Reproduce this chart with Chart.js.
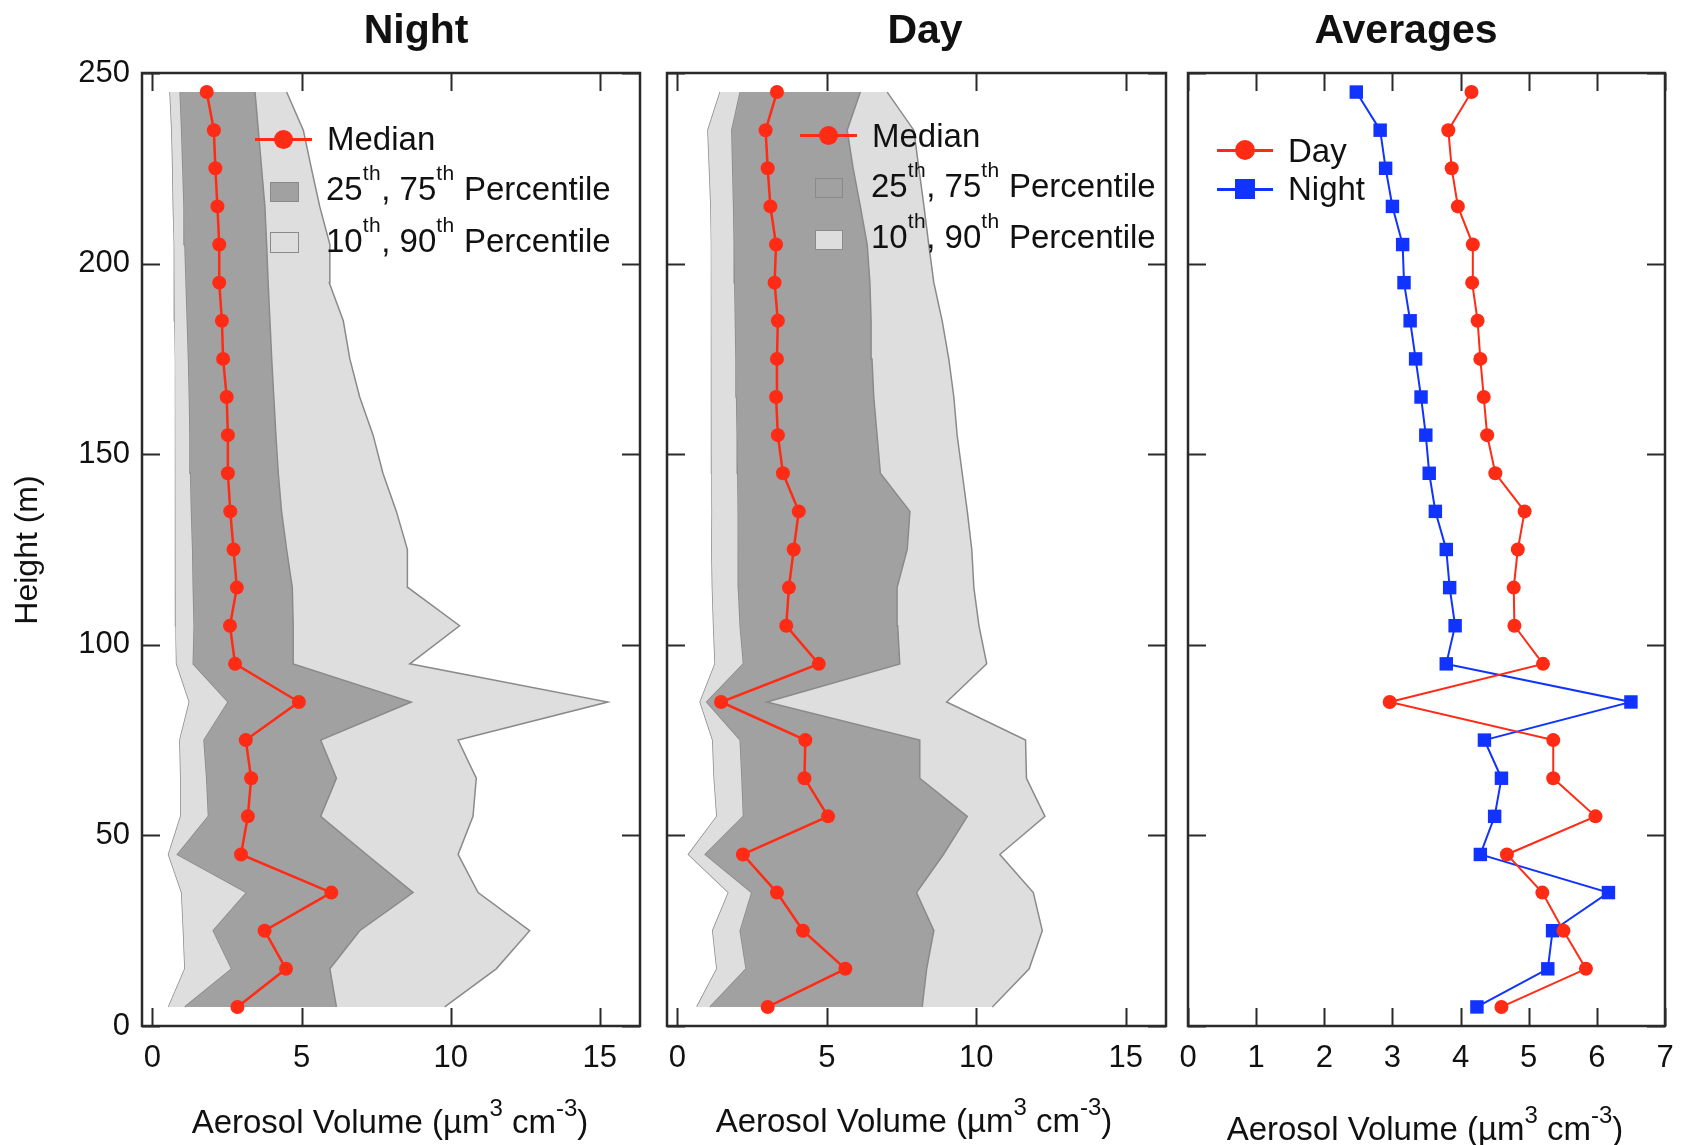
<!DOCTYPE html>
<html>
<head>
<meta charset="utf-8">
<title>Aerosol volume profiles</title>
<script src="https://cdn.jsdelivr.net/npm/chart.js@4.4.1/dist/chart.umd.min.js"></script>
<style>
  html, body { margin: 0; padding: 0; background: #fff; overflow: hidden; }
  body { width: 1682px; height: 1145px; position: relative;
         font-family: "Liberation Sans", Arial, Helvetica, sans-serif; color: #111; }
  canvas { position: absolute; top: 0; }
  .txt { position: absolute; white-space: nowrap; }
  .title { font-weight: bold; font-size: 41px; line-height: 41px; text-align: center; width: 400px; }
  .leg { font-size: 33px; line-height: 33px; }
  .leg .sup { font-size: 21px; position: relative; top: -20px; letter-spacing: 0.5px; }
  .axt { font-size: 33px; line-height: 33px; text-align: center; width: 600px; }
  .axt .sup { font-size: 24px; position: relative; top: -17px; }
  .ln { position: absolute; height: 2.5px; }
  .dot { position: absolute; border-radius: 50%; }
  .sq { position: absolute; }
  .sw { position: absolute; box-sizing: border-box; border: 1.5px solid #8a8a8a; }
  .ytitle { font-size: 32px; line-height: 32px; width: 300px; text-align: center;
            transform: rotate(-90deg); }
</style>
</head>
<body>
<canvas id="night" width="660" height="1145" style="left:0px"></canvas>
<canvas id="day" width="540" height="1145" style="left:645px"></canvas>
<canvas id="avg" width="516" height="1145" style="left:1166px"></canvas>

<!-- panel titles -->
<div class="txt title" style="left:216px; top:9px">Night</div>
<div class="txt title" style="left:725px; top:9px">Day</div>
<div class="txt title" style="left:1206px; top:9px">Averages</div>

<!-- axis titles -->
<div class="txt ytitle" style="left:-124px; top:534px">Height (m)</div>
<div class="txt axt" style="left:90px; top:1105px">Aerosol Volume (µm<span class="sup">3</span> cm<span class="sup">-3</span>)</div>
<div class="txt axt" style="left:614px; top:1104px">Aerosol Volume (µm<span class="sup">3</span> cm<span class="sup">-3</span>)</div>
<div class="txt axt" style="left:1125px; top:1112px">Aerosol Volume (µm<span class="sup">3</span> cm<span class="sup">-3</span>)</div>

<!-- Night legend -->
<div class="ln" style="left:255px; top:138px; width:57px; background:#ff2b14"></div>
<div class="dot" style="left:274px; top:130px; width:19px; height:19px; background:#ff2b14"></div>
<div class="txt leg" style="left:327px; top:122px">Median</div>
<div class="sw" style="left:270px; top:182px; width:29px; height:20px; background:#a1a1a1"></div>
<div class="txt leg" style="left:326px; top:172px">25<span class="sup">th</span>, 75<span class="sup">th</span> Percentile</div>
<div class="sw" style="left:270px; top:232px; width:29px; height:21px; background:#dedede"></div>
<div class="txt leg" style="left:326px; top:224px">10<span class="sup">th</span>, 90<span class="sup">th</span> Percentile</div>

<!-- Day legend -->
<div class="ln" style="left:800px; top:134px; width:57px; background:#ff2b14"></div>
<div class="dot" style="left:819px; top:126px; width:19px; height:19px; background:#ff2b14"></div>
<div class="txt leg" style="left:872px; top:119px">Median</div>
<div class="sw" style="left:815px; top:178px; width:28px; height:20px; background:#a1a1a1"></div>
<div class="txt leg" style="left:871px; top:169px">25<span class="sup">th</span>, 75<span class="sup">th</span> Percentile</div>
<div class="sw" style="left:815px; top:230px; width:28px; height:20px; background:#dedede"></div>
<div class="txt leg" style="left:871px; top:220px">10<span class="sup">th</span>, 90<span class="sup">th</span> Percentile</div>

<!-- Averages legend -->
<div class="ln" style="left:1217px; top:149px; width:56px; background:#ff2b14"></div>
<div class="dot" style="left:1235px; top:140px; width:20px; height:20px; background:#ff2b14"></div>
<div class="txt leg" style="left:1288px; top:134px">Day</div>
<div class="ln" style="left:1217px; top:188px; width:56px; background:#1033ff"></div>
<div class="sq" style="left:1235px; top:179px; width:20px; height:20px; background:#1033ff"></div>
<div class="txt leg" style="left:1288px; top:172px">Night</div>

<script>
// Heights of the profile levels (m), bottom to top
const heights = [5, 15, 25, 35, 45, 55, 65, 75, 85, 95, 105, 115, 125,
                 135, 145, 155, 165, 175, 185, 195, 205, 215, 225, 235, 245];

// Night statistics (µm3 cm-3)
const nightMedian = [2.85, 4.48, 3.76, 6.00, 2.97, 3.20, 3.31, 3.13, 4.91, 2.77, 2.60, 2.83, 2.72,
                     2.61, 2.53, 2.53, 2.49, 2.37, 2.33, 2.24, 2.24, 2.18, 2.11, 2.06, 1.82];
const nightP10 = [0.54, 1.09, 1.04, 0.98, 0.54, 0.95, 0.95, 0.92, 1.24, 0.81, 0.79, 0.78, 0.78,
                  0.78, 0.78, 0.77, 0.77, 0.76, 0.75, 0.74, 0.73, 0.70, 0.68, 0.65, 0.59];
const nightP25 = [1.09, 2.66, 2.04, 3.16, 0.84, 1.88, 1.82, 1.73, 2.54, 1.37, 1.40, 1.37, 1.35,
                  1.31, 1.28, 1.26, 1.24, 1.21, 1.17, 1.13, 1.09, 1.06, 1.02, 0.98, 0.93];
const nightP75 = [6.17, 5.95, 6.95, 8.74, 7.18, 5.64, 6.17, 5.64, 8.68, 4.72, 4.72, 4.69, 4.50,
                  4.33, 4.22, 4.14, 4.07, 4.00, 3.94, 3.88, 3.83, 3.77, 3.66, 3.55, 3.44];
const nightP90 = [9.80, 11.53, 12.65, 10.92, 10.25, 10.75, 10.86, 10.25, 15.27, 8.63, 10.30, 8.57, 8.55,
                  8.18, 7.73, 7.40, 6.95, 6.62, 6.40, 5.93, 5.95, 5.61, 5.33, 5.06, 4.50];

// Day statistics (µm3 cm-3)
const dayMedian = [3.02, 5.62, 4.20, 3.33, 2.19, 5.04, 4.25, 4.28, 1.46, 4.73, 3.64, 3.73, 3.89,
                   4.06, 3.53, 3.36, 3.30, 3.33, 3.36, 3.25, 3.30, 3.11, 3.02, 2.95, 3.33];
const dayP10 = [0.65, 1.32, 1.18, 1.71, 0.37, 1.32, 1.23, 1.18, 0.76, 1.26, 1.21, 1.17, 1.15,
                1.16, 1.15, 1.15, 1.15, 1.14, 1.14, 1.13, 1.13, 1.12, 1.07, 1.02, 1.43];
const dayP25 = [1.09, 2.30, 2.10, 2.49, 0.93, 2.21, 2.16, 2.10, 0.98, 2.21, 2.10, 2.04, 2.04,
                2.03, 2.02, 2.00, 1.98, 1.96, 1.94, 1.92, 1.90, 1.88, 1.85, 1.82, 2.10];
const dayP75 = [8.19, 8.34, 8.58, 8.00, 8.90, 9.70, 8.11, 8.11, 2.99, 7.44, 7.37, 7.35, 7.69,
                7.78, 6.79, 6.68, 6.57, 6.51, 6.48, 6.44, 6.35, 6.12, 5.88, 5.68, 6.12];
const dayP90 = [10.54, 11.77, 12.21, 11.91, 10.79, 12.30, 11.68, 11.65, 9.01, 10.35, 10.09, 9.92, 9.85,
                9.70, 9.53, 9.36, 9.25, 9.08, 8.86, 8.58, 8.41, 8.25, 8.08, 7.91, 7.02];

// Mean profiles (µm3 cm-3)
const avgDay = [4.60, 5.84, 5.51, 5.20, 4.68, 5.98, 5.36, 5.36, 2.96, 5.21, 4.79, 4.78, 4.84,
                4.94, 4.51, 4.39, 4.34, 4.29, 4.25, 4.17, 4.18, 3.96, 3.87, 3.82, 4.16];
const avgNight = [4.24, 5.28, 5.35, 6.17, 4.29, 4.50, 4.60, 4.35, 6.50, 3.79, 3.92, 3.84, 3.79,
                  3.63, 3.54, 3.49, 3.42, 3.34, 3.26, 3.17, 3.15, 3.00, 2.90, 2.82, 2.47];

// Tick values
const heightTicks = [0, 50, 100, 150, 200, 250];
const volumeTicks = [0, 5, 10, 15];
const averageTicks = [0, 1, 2, 3, 4, 5, 6, 7];

const RED = '#ff2b14';
const BLUE = '#1033ff';
const BAND_EDGE = '#8a8a8a';
const BAND_DARK = '#a1a1a1';
const BAND_LIGHT = '#dedede';
const FONT = '"Liberation Sans", Arial, Helvetica, sans-serif';

Chart.defaults.font.family = FONT;
Chart.defaults.color = '#111';

const profile = vals => heights.map((h, i) => ({ x: vals[i], y: h }));

// Box frame with inward tick marks on all four sides
const frameTicks = {
  id: 'frameTicks',
  afterDatasetsDraw(chart, args, opts) {
    const { ctx, chartArea: a, scales } = chart;
    const L = 18;
    ctx.save();
    ctx.strokeStyle = '#2a2a2a';
    ctx.lineWidth = 2.5;
    ctx.strokeRect(a.left, a.top, a.right - a.left, a.bottom - a.top);
    ctx.lineWidth = 2;
    ctx.beginPath();
    for (const v of opts.xTicks) {
      const px = Math.round(scales.x.getPixelForValue(v)) + 0.5;
      ctx.moveTo(px, a.bottom); ctx.lineTo(px, a.bottom - L);
      ctx.moveTo(px, a.top); ctx.lineTo(px, a.top + L);
    }
    for (const v of opts.yTicks) {
      const py = Math.round(scales.y.getPixelForValue(v)) + 0.5;
      ctx.moveTo(a.left, py); ctx.lineTo(a.left + L, py);
      ctx.moveTo(a.right, py); ctx.lineTo(a.right - L, py);
    }
    ctx.stroke();
    ctx.restore();
  }
};

function xScale(min, max, ticks) {
  return {
    type: 'linear', position: 'bottom', min, max,
    grid: { display: false, drawTicks: false },
    border: { display: false },
    ticks: { font: { size: 31 }, color: '#111', padding: 14, autoSkip: false, maxRotation: 0 },
    afterBuildTicks: s => { s.ticks = ticks.map(v => ({ value: v })); },
    afterFit: s => { s.height = 119; s.paddingLeft = 0; s.paddingRight = 0; }
  };
}

function yScale(width, showLabels) {
  return {
    type: 'linear', position: 'left', min: 0, max: 250,
    grid: { display: false, drawTicks: false },
    border: { display: false },
    ticks: { display: showLabels, font: { size: 31 }, color: '#111', padding: 12, autoSkip: false },
    afterBuildTicks: s => { s.ticks = heightTicks.map(v => ({ value: v })); },
    afterFit: s => { s.width = width; s.paddingTop = 0; s.paddingBottom = 0; }
  };
}

function bandSets(median, p10, p25, p75, p90) {
  const edge = { pointRadius: 0, borderColor: BAND_EDGE, borderWidth: 1.5, tension: 0 };
  return [
    { data: profile(median), borderColor: RED, backgroundColor: RED, borderWidth: 2.5,
      pointRadius: 7, pointBorderWidth: 0, pointBackgroundColor: RED, fill: false, tension: 0 },
    { ...edge, data: profile(p75), backgroundColor: BAND_DARK, fill: '+1' },
    { ...edge, data: profile(p25), fill: false },
    { ...edge, data: profile(p90), backgroundColor: BAND_LIGHT, fill: '+1' },
    { ...edge, data: profile(p10), fill: false }
  ];
}

function makeChart(id, datasets, opts) {
  return new Chart(document.getElementById(id), {
    type: 'line',
    data: { datasets },
    options: {
      indexAxis: 'y',
      responsive: false,
      animation: false,
      events: [],
      layout: { padding: { left: 0, right: opts.padRight, top: 73, bottom: 0 } },
      scales: { x: opts.x, y: opts.y },
      plugins: {
        legend: { display: false },
        tooltip: { enabled: false },
        frameTicks: { xTicks: opts.xTicks, yTicks: heightTicks }
      }
    },
    plugins: [frameTicks]
  });
}

makeChart('night', bandSets(nightMedian, nightP10, nightP25, nightP75, nightP90), {
  x: xScale(-0.35, 16.35, volumeTicks), y: yScale(142, true), padRight: 20, xTicks: volumeTicks
});

makeChart('day', bandSets(dayMedian, dayP10, dayP25, dayP75, dayP90), {
  x: xScale(-0.35, 16.35, volumeTicks), y: yScale(22, false), padRight: 19, xTicks: volumeTicks
});

makeChart('avg', [
  { data: profile(avgDay), borderColor: RED, backgroundColor: RED, borderWidth: 2,
    pointRadius: 7, pointBorderWidth: 0, pointBackgroundColor: RED, tension: 0, fill: false },
  { data: profile(avgNight), borderColor: BLUE, backgroundColor: BLUE, borderWidth: 2,
    pointStyle: 'rect', pointRadius: 9.5, pointBorderWidth: 0, pointBackgroundColor: BLUE,
    tension: 0, fill: false }
], {
  x: xScale(0, 7, averageTicks), y: yScale(22, false), padRight: 17, xTicks: averageTicks
});
</script>
</body>
</html>
